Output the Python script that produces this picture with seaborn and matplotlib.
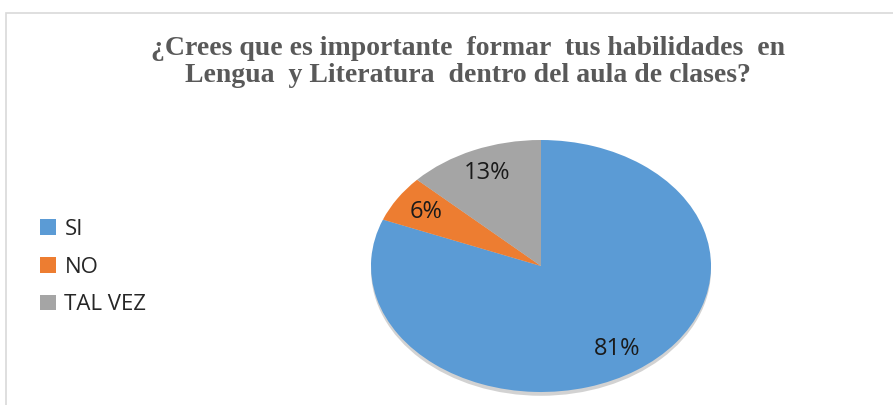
import matplotlib
matplotlib.use("Agg")
import seaborn as sns
from matplotlib import pyplot as plt
from matplotlib.patches import Rectangle, Ellipse

# Data
labels = ["SI", "NO", "TAL VEZ"]
values = [81, 6, 13]
colors = ["#5B9BD5", "#ED7D31", "#A5A5A5"]
title = "¿Crees que es importante  formar  tus habilidades  en\nLengua  y Literatura  dentro del aula de clases?"

sns.set_theme(style="white")
plt.rcParams["font.family"] = ["Open Sans", "DejaVu Sans"]

fig = plt.figure(figsize=(8.93, 4.05), dpi=100)

# outer chart border
fig.patches.append(Rectangle((6 / 893, -0.05), 1.0, (405 - 13) / 405 + 0.05,
                             transform=fig.transFigure, fill=False,
                             edgecolor="#D9D9D9", linewidth=1.2))

# pie axes (stretched ellipse)
cx, cy, rx, ry = 541, 266, 170, 126
pad = 1.1
ax = fig.add_axes([(cx - rx * pad) / 893, (405 - cy - ry * pad) / 405,
                   2 * rx * pad / 893, 2 * ry * pad / 405])
ax.add_patch(Ellipse((0.0, -0.03), 2.0, 2.0, facecolor="#7f7f7f", alpha=0.35,
                     linewidth=0, zorder=0))
wedges, texts, autotexts = ax.pie(values, colors=colors, startangle=90, counterclock=False,
                                  autopct="%1.0f%%", pctdistance=0.8,
                                  wedgeprops=dict(linewidth=0, zorder=1),
                                  textprops=dict(fontsize=17, color="#1a1a1a"))
ax.set_aspect("auto")
ax.set_xlim(-pad, pad)
ax.set_ylim(-pad, pad)

# legend
leg = fig.legend(wedges, labels, loc="upper left", bbox_to_anchor=(20 / 893, 1 - 199 / 405),
                 frameon=False, fontsize=16, handlelength=0.7, handleheight=0.7,
                 labelspacing=0.75, handletextpad=0.4)

fig.text(468 / 893, 1 - 62 / 405, title, ha="center", va="center",
         family="Liberation Serif", fontweight="bold", fontsize=20,
         color="#595959", linespacing=1.15)

fig.savefig("out.png", dpi=100)
